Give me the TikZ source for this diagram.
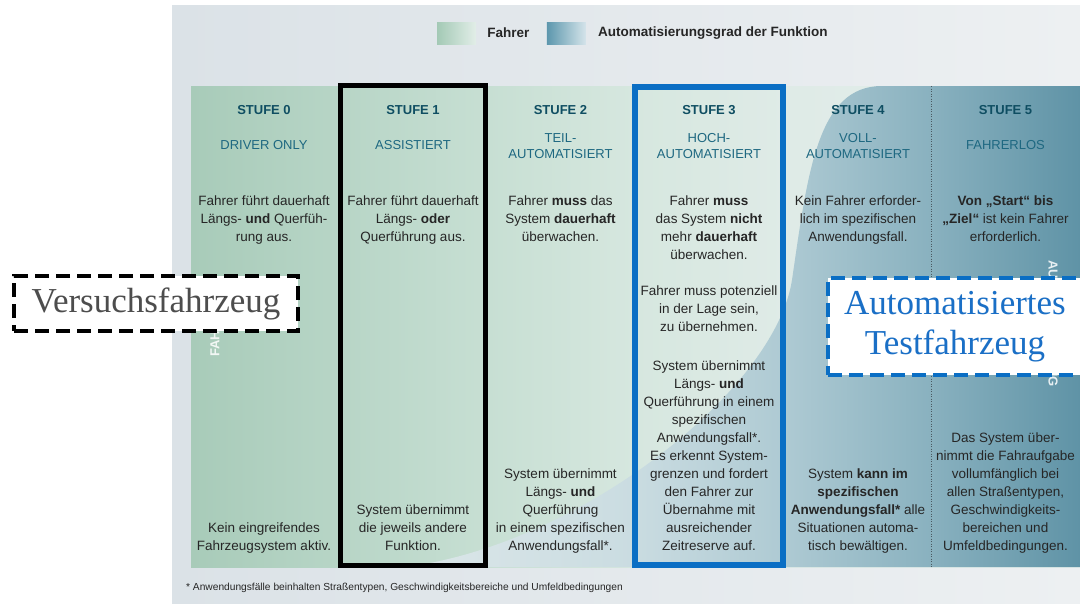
\documentclass[tikz,border=0pt]{standalone}
\usepackage{fontspec}
\setmainfont{Liberation Sans}
\newfontfamily\boxfont{Liberation Serif}
\usetikzlibrary{positioning}

\definecolor{bgleft}{HTML}{DBE2E7}
\definecolor{bgright}{HTML}{EDF0F2}
\definecolor{fgA}{HTML}{A8CBB9}
\definecolor{fgB}{HTML}{B7D5C6}
\definecolor{fgC}{HTML}{C7DFD3}
\definecolor{fgD}{HTML}{D6E7DF}
\definecolor{fgE}{HTML}{DFEBE7}
\definecolor{fgF}{HTML}{E4EEEB}
\definecolor{agA}{HTML}{DCE7E9}
\definecolor{agB}{HTML}{CADCE1}
\definecolor{agC}{HTML}{AECAD3}
\definecolor{agD}{HTML}{89B1BF}
\definecolor{agE}{HTML}{5F93A6}
\definecolor{legfA}{HTML}{A3C9B5}
\definecolor{legfB}{HTML}{E2EEE8}
\definecolor{legaA}{HTML}{5C97AD}
\definecolor{legaB}{HTML}{D5E4EA}
\definecolor{stufeteal}{HTML}{0F4E62}
\definecolor{subteal}{HTML}{1E6881}
\definecolor{bodygray}{HTML}{262626}
\definecolor{frameblue}{HTML}{0A6EC4}
\definecolor{boxblue}{HTML}{1A6FC6}
\definecolor{boxgray}{HTML}{4D4D4D}
\definecolor{trenngray}{HTML}{4A5A62}

\pgfdeclarehorizontalshading{fahrershade}{100bp}{color(0bp)=(fgA); color(25bp)=(fgA);
  color(33.2bp)=(fgB); color(41.7bp)=(fgC); color(49.9bp)=(fgD); color(58.4bp)=(fgE);
  color(75bp)=(fgF); color(100bp)=(fgF)}
\pgfdeclarehorizontalshading{autoshade}{100bp}{color(0bp)=(agA); color(25bp)=(agA);
  color(41.9bp)=(agB); color(53.1bp)=(agC); color(64bp)=(agD); color(75bp)=(agE);
  color(100bp)=(agE)}
\pgfdeclarehorizontalshading{legfahrer}{100bp}{color(0bp)=(legfA); color(25bp)=(legfA);
  color(75bp)=(legfB); color(100bp)=(legfB)}
\pgfdeclarehorizontalshading{legauto}{100bp}{color(0bp)=(legaA); color(25bp)=(legaA);
  color(75bp)=(legaB); color(100bp)=(legaB)}

\tikzset{
  legswatch/.style={shade, minimum width=39pt, minimum height=22pt, inner sep=0pt},
  legtext/.style={font=\fontsize{13.5}{16}\selectfont\bfseries, text=bodygray, inner sep=0pt},
  stufehead/.style={font=\fontsize{13}{15}\selectfont\bfseries, text=stufeteal, inner sep=0pt},
  stufesub/.style={font=\fontsize{13}{16}\selectfont, text=subteal, align=center, inner sep=0pt},
  stufetext/.style={font=\fontsize{13.5}{18}\selectfont, text=bodygray, align=center, inner sep=0pt,
    execute at begin node=\strut, execute at end node=\strut},
  vertlabel/.style={font=\fontsize{13}{15}\selectfont\bfseries, text=white, text opacity=0.85, inner sep=0pt},
  trenner/.style={trenngray, line width=0.8pt, dash pattern=on 1pt off 1.5pt},
  rahmenschwarz/.style={draw=black, line width=5pt},
  rahmenblau/.style={draw=frameblue, line width=6pt},
  fzgbox/.style={fill=white, line width=4pt, dash pattern=on 14pt off 7pt, inner sep=0pt,
    font=\boxfont\fontsize{35}{40}\selectfont, align=center},
  fussnote/.style={font=\fontsize{10.2}{12}\selectfont, text=bodygray, inner sep=0pt}
}

\begin{document}
\begin{tikzpicture}[x=1pt, y=-1pt]
\useasboundingbox (0,0) rectangle (1080,603);
\clip (0,0) rectangle (1080,603);
\fill[white] (0,0) rectangle (1080,603);

% Hintergrund und Stufenband
\shade[left color=bgleft, right color=bgright] (172,5) rectangle (1080,603);
\shade[shading=fahrershade] (191,86) rectangle (1080,567);
\shade[shading=autoshade] (405,567) .. controls (580,545) and (775,390) .. (792,280)
  .. controls (808,170) and (818,86) .. (882,86) -- (1080,86) -- (1080,567) -- cycle;
\draw[trenner] (931,86) -- (931,567);

% senkrechte Beschriftungen
\node[vertlabel, rotate=90, anchor=west] (fahrerlabel) at (215,357) {FAHRER};
\node[vertlabel, rotate=-90, anchor=west] (autolabel) at (1053,260) {AUTOMATISIERUNG};

% Rahmen um Stufe 1 und Stufe 3
\draw[rahmenschwarz] (340,85.5) rectangle (485.5,565.5);
\draw[rahmenblau] (635,86.5) rectangle (783,565);

% Legende
\node[legswatch, shading=legfahrer] (swfahrer) at (456.5,33) {};
\node[legtext, right=11pt of swfahrer] (lgfahrer) {Fahrer};
\node[legswatch, shading=legauto, right=17pt of lgfahrer] (swauto) {};
\node[legtext, right=12pt of swauto] (lgauto) {Automatisierungsgrad der Funktion};

% Stufen
\node[stufehead] (stufe0) at (264,110) {STUFE 0};
\node[stufehead] (stufe1) at (413,110) {STUFE 1};
\node[stufehead] (stufe2) at (560.5,110) {STUFE 2};
\node[stufehead] (stufe3) at (709,110) {STUFE 3};
\node[stufehead] (stufe4) at (858,110) {STUFE 4};
\node[stufehead] (stufe5) at (1005.5,110) {STUFE 5};

\node[stufesub] (sub0) at (264,145) {DRIVER ONLY};
\node[stufesub] (sub1) at (413,145) {ASSISTIERT};
\node[stufesub] (sub2) at (560.5,146) {TEIL-\\AUTOMATISIERT};
\node[stufesub] (sub3) at (709,146) {HOCH-\\AUTOMATISIERT};
\node[stufesub] (sub4) at (858,146) {VOLL-\\AUTOMATISIERT};
\node[stufesub] (sub5) at (1005.5,145) {FAHRERLOS};

% Fahrer
\node[stufetext, anchor=north] (fahrer0) at (264,195.4) {Fahrer führt dauerhaft\\Längs- \textbf{und} Querfüh-\\rung aus.};
\node[stufetext, anchor=north] (fahrer1) at (413,195.4) {Fahrer führt dauerhaft\\Längs- \textbf{oder}\\Querführung aus.};
\node[stufetext, anchor=north] (fahrer2) at (560.5,195.4) {Fahrer \textbf{muss} das\\System \textbf{dauerhaft}\\überwachen.};
\node[stufetext, anchor=north] (fahrer3) at (709,195.4) {Fahrer \textbf{muss}\\das System \textbf{nicht}\\mehr \textbf{dauerhaft}\\überwachen.};
\node[stufetext, anchor=north] (fahrer3b) at (709,285.4) {Fahrer muss potenziell\\in der Lage sein,\\zu übernehmen.};
\node[stufetext, anchor=north] (fahrer4) at (858,195.4) {Kein Fahrer erforder-\\lich im spezifischen\\Anwendungsfall.};
\node[stufetext, anchor=north] (fahrer5) at (1005.5,195.4) {\textbf{Von „Start“ bis}\\\textbf{„Ziel“} ist kein Fahrer\\erforderlich.};

% System
\node[stufetext, anchor=south] (system0) at (264,556) {Kein eingreifendes\\Fahrzeugsystem aktiv.};
\node[stufetext, anchor=south] (system1) at (413,556) {System übernimmt\\die jeweils andere\\Funktion.};
\node[stufetext, anchor=south] (system2) at (560.5,556) {System übernimmt\\Längs- \textbf{und}\\Querführung\\in einem spezifischen\\Anwendungsfall*.};
\node[stufetext, anchor=south] (system3) at (709,556) {System übernimmt\\Längs- \textbf{und}\\Querführung in einem\\spezifischen\\Anwendungsfall*.\\Es erkennt System-\\grenzen und fordert\\den Fahrer zur\\Übernahme mit\\ausreichender\\Zeitreserve auf.};
\node[stufetext, anchor=south] (system4) at (858,556) {System \textbf{kann im}\\\textbf{spezifischen}\\\textbf{Anwendungsfall*} alle\\Situationen automa-\\tisch bewältigen.};
\node[stufetext, anchor=south] (system5) at (1005.5,556) {Das System über-\\nimmt die Fahraufgabe\\vollumfänglich bei\\allen Straßentypen,\\Geschwindigkeits-\\bereichen und\\Umfeldbedingungen.};

\node[fussnote, anchor=west] (fussnote) at (186,588) {* Anwendungsfälle beinhalten Straßentypen, Geschwindigkeitsbereiche und Umfeldbedingungen};

% Fahrzeuge
\node[fzgbox, draw=black, text=boxgray, minimum width=284pt, minimum height=55pt] (versuch) at (156,303.5) {Versuchsfahrzeug};
\node[fzgbox, draw=frameblue, text=boxblue, minimum width=254pt, minimum height=97pt] (testfzg) at (955,326.5) {Automatisiertes\\Testfahrzeug};
\end{tikzpicture}
\end{document}
